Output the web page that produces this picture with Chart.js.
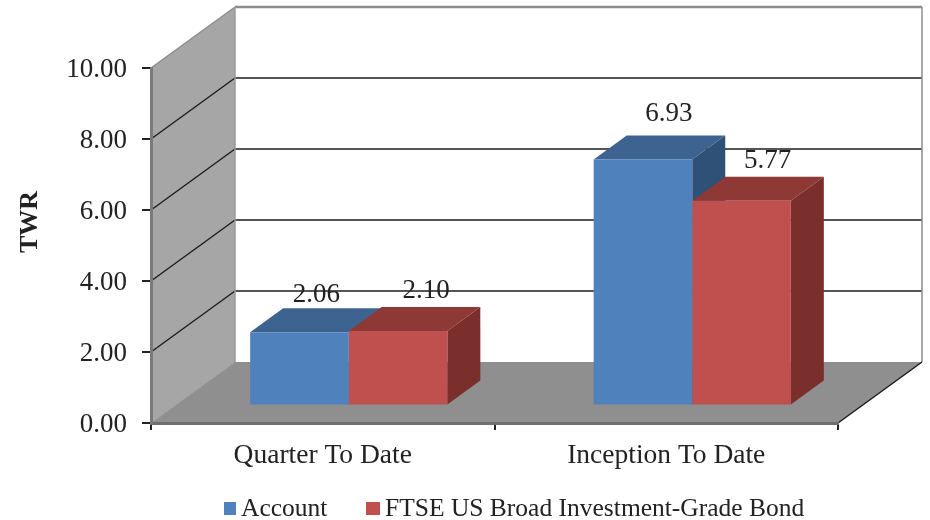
<!DOCTYPE html>
<html>
<head>
<meta charset="utf-8">
<title>TWR</title>
<script src="https://cdn.jsdelivr.net/npm/chart.js@4"></script>
<style>
  body { margin: 0; background: #fff; }
  #myChart { display: block; filter: blur(0.7px); }
</style>
</head>
<body>
<canvas id="myChart" width="930" height="520"></canvas>
<script>
const categories = ['Quarter To Date', 'Inception To Date'];
const accountValues = [2.06, 6.93];
const benchmarkValues = [2.10, 5.77];
const seriesNames = ['Account', 'FTSE US Broad Investment-Grade Bond'];

const serif = '"Liberation Serif", serif';

// depth of the fake 3d box and of the bars inside it
const wall = { dx: 84, dy: -61 };
const shift = { dx: 26, dy: -17.5 };
const bar = { dx: 33, dy: -24 };

// excel did not place the value labels evenly, [dx, dy] from front top centre
const labelShift = [
  [[17, -37], [28, -40]],
  [[26, -46], [26, -40]]
];

const faceColors = [
  { top: '#3D6391', side: '#2F5077' },
  { top: '#8E3936', side: '#7A2F2D' }
];

function poly(ctx, pts, fill) {
  ctx.beginPath();
  ctx.moveTo(pts[0][0], pts[0][1]);
  for (let p of pts.slice(1)) ctx.lineTo(p[0], p[1]);
  ctx.closePath();
  ctx.fillStyle = fill;
  ctx.fill();
}

function line(ctx, x1, y1, x2, y2, color, width) {
  ctx.beginPath();
  ctx.moveTo(x1, y1);
  ctx.lineTo(x2, y2);
  ctx.strokeStyle = color;
  ctx.lineWidth = width;
  ctx.stroke();
}

const box3d = {
  id: 'box3d',
  // walls go under the axes, the axis lines sit on top of them
  beforeDraw(chart) {
    const ctx = chart.ctx;
    const { left, right, top, bottom } = chart.chartArea;
    ctx.save();

    poly(ctx, [[left, top], [left + wall.dx, top + wall.dy], [left + wall.dx, bottom + wall.dy], [left, bottom]], '#A6A6A6');
    poly(ctx, [[left, bottom], [left + wall.dx, bottom + wall.dy], [right + wall.dx, bottom + wall.dy], [right, bottom]], '#8F8F8F');

    for (let tick of chart.scales.y.ticks) {
      const y = chart.scales.y.getPixelForValue(tick.value);
      if (tick.value === 0) continue;
      const color = tick.value === 10 ? '#8C8C8C' : '#1C1C1C';
      line(ctx, left, y, left + wall.dx, y + wall.dy, color, tick.value === 10 ? 1.5 : 1.4);
      line(ctx, left + wall.dx, y + wall.dy, right + wall.dx, y + wall.dy, color, tick.value === 10 ? 2.5 : 1.6);
    }
    line(ctx, left + wall.dx, top + wall.dy, left + wall.dx, bottom + wall.dy, '#9A9A9A', 1.5);
    line(ctx, right + wall.dx, top + wall.dy, right + wall.dx, bottom + wall.dy, '#8C8C8C', 1.5);
    line(ctx, left, bottom, left + wall.dx, bottom + wall.dy, '#9C9C9C', 1);
    line(ctx, right, bottom, right + wall.dx, bottom + wall.dy, '#1C1C1C', 1.5);
    ctx.restore();

    // y tick labels sit a little low in the original
    for (let item of chart.scales.y.getLabelItems()) {
      if (!item.moved) {
        item.options.translation[1] += 2;
        item.moved = true;
      }
    }
  },
  beforeDatasetsDraw(chart) {
    const ctx = chart.ctx;
    ctx.save();

    // top and side faces of the bars, fronts come from chart.js afterwards
    chart.data.datasets.forEach((ds, i) => {
      chart.getDatasetMeta(i).data.forEach(el => {
        const hw = el.width / 2;
        const l = el.x - hw + shift.dx;
        const r = el.x + hw + shift.dx;
        const t = el.y + shift.dy;
        const b = el.base + shift.dy;
        poly(ctx, [[l, t], [l + bar.dx, t + bar.dy], [r + bar.dx, t + bar.dy], [r, t]], faceColors[i].top);
        poly(ctx, [[r, t], [r + bar.dx, t + bar.dy], [r + bar.dx, b + bar.dy], [r, b]], faceColors[i].side);
      });
    });

    ctx.restore();
    ctx.save();
    ctx.translate(shift.dx, shift.dy);
  },
  afterDatasetsDraw(chart) {
    const ctx = chart.ctx;
    ctx.restore();
    ctx.save();

    // value labels
    ctx.font = '27px ' + serif;
    ctx.fillStyle = '#222';
    ctx.textAlign = 'center';
    ctx.textBaseline = 'middle';
    chart.data.datasets.forEach((ds, i) => {
      chart.getDatasetMeta(i).data.forEach((el, j) => {
        const s = labelShift[j][i];
        ctx.fillText(ds.data[j].toFixed(2), el.x + shift.dx + s[0], el.y + shift.dy + s[1]);
      });
    });

    // axis title, centred on the whole box rather than the front of it
    ctx.save();
    ctx.translate(30, 222);
    ctx.rotate(-Math.PI / 2);
    ctx.font = 'bold 26px ' + serif;
    ctx.fillText('TWR', 0, 0);
    ctx.restore();

    // legend
    ctx.font = '25.5px ' + serif;
    ctx.textAlign = 'left';
    const legendY = 509;
    const legendX = [224, 366];
    const legendBox = [12, 14];
    const legendText = [241, 385];
    chart.data.datasets.forEach((ds, i) => {
      ctx.fillStyle = ds.backgroundColor;
      ctx.fillRect(legendX[i], 502, legendBox[i], 13);
      ctx.fillStyle = '#222';
      ctx.fillText(ds.label, legendText[i], legendY);
    });
    ctx.restore();
  }
};

const ctx = document.getElementById('myChart').getContext('2d');

new Chart(ctx, {
  type: 'bar',
  data: {
    labels: categories,
    datasets: [{
      label: seriesNames[0],
      backgroundColor: '#4F81BD',
      data: accountValues,
      clip: false,
    },
    {
      label: seriesNames[1],
      backgroundColor: '#C0504D',
      data: benchmarkValues,
      clip: false,
    }]
  },
  options: {
    responsive: false,
    animation: false,
    categoryPercentage: 0.574,
    barPercentage: 1,
    layout: { padding: { top: 68, right: 92, bottom: 0, left: 0 } },
    plugins: {
      legend: { display: false },
      tooltip: { enabled: false },
    },
    scales: {
      x: {
        afterFit(scale) { scale.height = 97; },
        grid: { drawOnChartArea: false, tickLength: 7, color: '#222', lineWidth: 2 },
        border: { color: '#6E6E6E', width: 3 },
        ticks: { color: '#222', padding: 9, font: { family: serif, size: 27.5 }, maxRotation: 0 },
      },
      y: {
        min: 0,
        max: 10,
        afterFit(scale) { scale.width = 151; },
        grid: { drawOnChartArea: false, tickLength: 9, color: '#222', lineWidth: 2 },
        border: { color: '#7A7A7A', width: 3 },
        ticks: {
          stepSize: 2,
          color: '#222',
          padding: 15,
          font: { family: serif, size: 27 },
          callback: v => v.toFixed(2),
        },
      },
    },
  },
  plugins: [box3d],
});
</script>
</body>
</html>
